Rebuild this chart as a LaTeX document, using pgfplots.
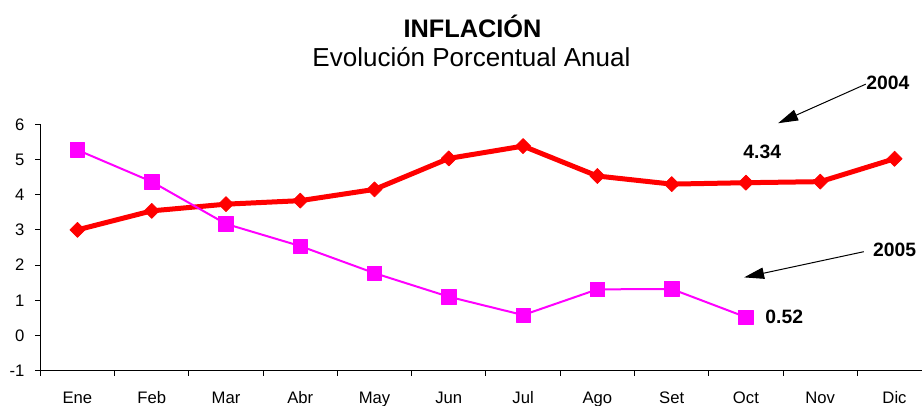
\documentclass[border=0pt]{standalone}
\usepackage{fontspec}
\setmainfont{Liberation Sans}
\usepackage{pgfplots}
\pgfplotsset{compat=1.18}
\usetikzlibrary{arrows.meta}
\definecolor{rojo}{RGB}{255,0,0}
\definecolor{mag}{RGB}{255,0,255}
\begin{document}
\begin{tikzpicture}
\path[use as bounding box] (0pt,0pt) rectangle (691.5pt,303.75pt);
\clip (0pt,0pt) rectangle (691.5pt,303.75pt);
\node[anchor=base, inner sep=0pt, font=\bfseries\fontsize{19}{22}\selectfont] at (354.4pt,275.8pt) {INFLACIÓN};
\node[anchor=base, inner sep=0pt, font=\fontsize{19.5}{23}\selectfont] at (353.6pt,253.75pt) {Evolución Porcentual Anual};
\begin{axis}[
 at={(30.2pt,25.75pt)}, anchor=south west, scale only axis,
 width=661.3pt, height=184.8pt,
 xmin=-0.5, xmax=11.37, ymin=-1, ymax=6,
 axis x line=bottom, axis y line=left,
 axis line style={-, black, line width=0.75pt},
 xtick={-0.5,0.5,...,10.5}, xticklabels={},
 extra x ticks={0,...,11},
 extra x tick labels={Ene,Feb,Mar,Abr,May,Jun,Jul,Ago,Set,Oct,Nov,Dic},
 extra x tick style={major tick length=0pt, xticklabel style={anchor=base, inner sep=0pt, yshift=-24.5pt}},
 ytick={-1,0,...,6}, yticklabels={-1,0,1,2,3,4,5,6},
 yticklabel style={anchor=east, inner sep=0pt, xshift=-8pt},
 tick align=outside, major tick length=3.75pt,
 tick style={black, line width=0.75pt},
 tick label style={font=\fontsize{12.5}{15}\selectfont},
 clip=false,
]
\addplot[rojo, line width=3.75pt, line join=round, mark=square*, mark size=4pt,
  mark options={rotate=45, line width=0.5pt, solid, fill=rojo}] coordinates {
 (0,3.00) (1,3.54) (2,3.73) (3,3.83) (4,4.15) (5,5.03) (6,5.38) (7,4.53) (8,4.30) (9,4.34) (10,4.37) (11,5.02)};
\addplot[mag, line width=1.5pt, line join=round, mark=square*, mark size=5.4pt,
  mark options={line width=0.5pt, solid, fill=mag}] coordinates {
 (0,5.27) (1,4.37) (2,3.17) (3,2.54) (4,1.77) (5,1.10) (6,0.58) (7,1.31) (8,1.32) (9,0.52)};
\node[anchor=base, inner sep=0pt, font=\bfseries\fontsize{14.5}{17}\selectfont] at (axis cs:9.22,5.03) {4.34};
\node[anchor=base, inner sep=0pt, font=\bfseries\fontsize{14.5}{17}\selectfont] at (axis cs:9.516,0.33) {0.52};
\node[anchor=base, inner sep=0pt, font=\bfseries\fontsize{14.5}{17}\selectfont] at (axis cs:10.91,6.99) {2004};
\node[anchor=base, inner sep=0pt, font=\bfseries\fontsize{14.5}{17}\selectfont] at (axis cs:11.0,2.24) {2005};
\draw[-{Triangle[length=15pt,width=8.5pt]}, line width=0.75pt] (axis cs:10.613,7.14) -- (axis cs:9.433,6.03);
\draw[-{Triangle[length=15pt,width=8.5pt]}, line width=0.75pt] (axis cs:10.586,2.38) -- (axis cs:8.975,1.65);
\end{axis}
\end{tikzpicture}
\end{document}
